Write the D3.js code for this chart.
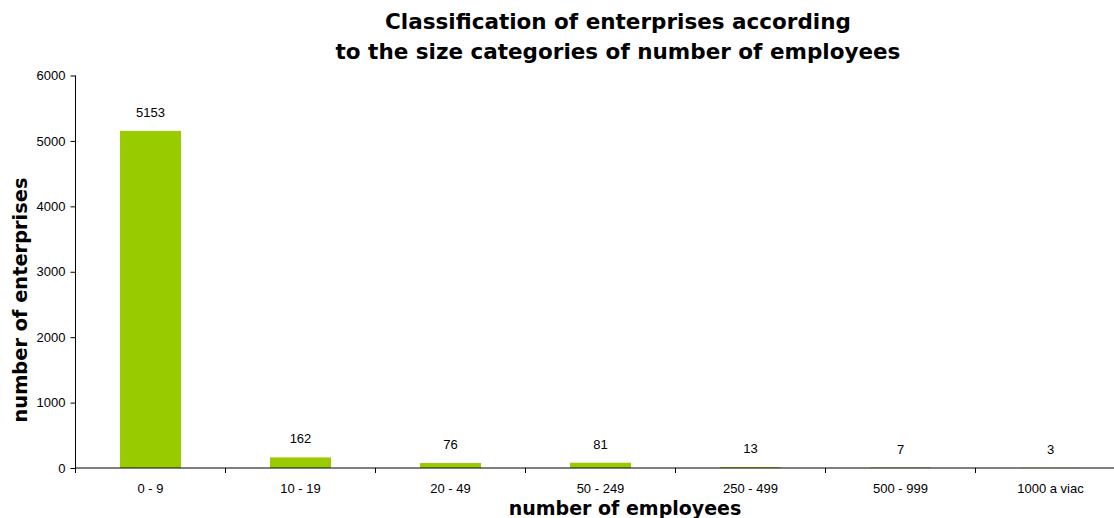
<!DOCTYPE html>
<html>
<head>
<meta charset="utf-8">
<script src="https://cdn.jsdelivr.net/npm/d3@7"></script>
<style>
  body { margin: 0; background: #fff; }
  text { fill: #000; }
</style>
</head>
<body>
<div id="chart"></div>
<script>
// data
const categories = ["0 - 9", "10 - 19", "20 - 49", "50 - 249", "250 - 499", "500 - 999", "1000 a viac"];
const values = [5153, 162, 76, 81, 13, 7, 3];
const yTicks = [0, 1000, 2000, 3000, 4000, 5000, 6000];

const W = 1114, H = 518;
const margin = {top: 75.5, left: 75.5};
const plotH = 392.5, plotW = 1050;

const svg = d3.select("#chart").append("svg")
    .attr("width", W)
    .attr("height", H);

const g = svg.append("g")
    .attr("transform", "translate(" + margin.left + "," + margin.top + ")");

const x = d3.scaleBand()
    .domain(categories)
    .range([0, plotW])
    .paddingInner(0.593)
    .paddingOuter(0.2965);

const y = d3.scaleLinear()
    .domain([0, 6000])
    .range([plotH, 0]);

// bars
g.selectAll(".bar")
    .data(values)
    .join("rect")
    .attr("class", "bar")
    .attr("x", (d, i) => x(categories[i]))
    .attr("y", d => y(d))
    .attr("width", x.bandwidth())
    .attr("height", d => plotH - y(d))
    .attr("fill", "#99cc00");

// value labels
g.selectAll(".val")
    .data(values)
    .join("text")
    .attr("class", "val")
    .attr("x", (d, i) => x(categories[i]) + x.bandwidth() / 2)
    .attr("y", d => y(d) - 14)
    .attr("text-anchor", "middle")
    .style("font-family", "Arial, 'Liberation Sans', sans-serif")
    .style("font-size", "13px")
    .text(d => d);

// y axis
const yAxis = g.append("g")
    .call(d3.axisLeft(y).tickValues(yTicks).tickFormat(d3.format("d")).tickSize(5).tickPadding(5));
yAxis.select(".domain").attr("stroke", "#000").attr("d", "M0," + plotH + "V0");
yAxis.selectAll("text")
    .style("font-family", "Arial, 'Liberation Sans', sans-serif")
    .style("font-size", "13px");

// x axis: ticks at band boundaries
const xAxis = g.append("g")
    .attr("transform", "translate(0," + plotH + ")");
xAxis.append("line")
    .attr("x1", 0).attr("x2", plotW)
    .attr("stroke", "#000");
xAxis.selectAll(".tk")
    .data(d3.range(categories.length + 1))
    .join("line")
    .attr("class", "tk")
    .attr("x1", i => i * x.step())
    .attr("x2", i => i * x.step())
    .attr("y1", 0).attr("y2", 5)
    .attr("stroke", "#000");
xAxis.selectAll(".lbl")
    .data(categories)
    .join("text")
    .attr("class", "lbl")
    .attr("x", d => x(d) + x.bandwidth() / 2)
    .attr("y", 24.5)
    .attr("text-anchor", "middle")
    .style("font-family", "Arial, 'Liberation Sans', sans-serif")
    .style("font-size", "13px")
    .text(d => d);

// title
const title = svg.append("text")
    .attr("text-anchor", "middle")
    .style("font-family", "Verdana, 'DejaVu Sans', sans-serif")
    .style("font-weight", "bold")
    .style("font-size", "21.5px");
title.append("tspan").attr("x", 618).attr("y", 29).text("Classification of enterprises according");
title.append("tspan").attr("x", 618).attr("y", 59).text("to the size categories of number of employees");

// axis titles
svg.append("text")
    .attr("x", 625)
    .attr("y", 515)
    .attr("text-anchor", "middle")
    .style("font-family", "Verdana, 'DejaVu Sans', sans-serif")
    .style("font-weight", "bold")
    .style("font-size", "19px")
    .text("number of employees");

svg.append("text")
    .attr("transform", "translate(27,300) rotate(-90)")
    .attr("text-anchor", "middle")
    .style("font-family", "Verdana, 'DejaVu Sans', sans-serif")
    .style("font-weight", "bold")
    .style("font-size", "19.4px")
    .text("number of enterprises");
</script>
</body>
</html>
